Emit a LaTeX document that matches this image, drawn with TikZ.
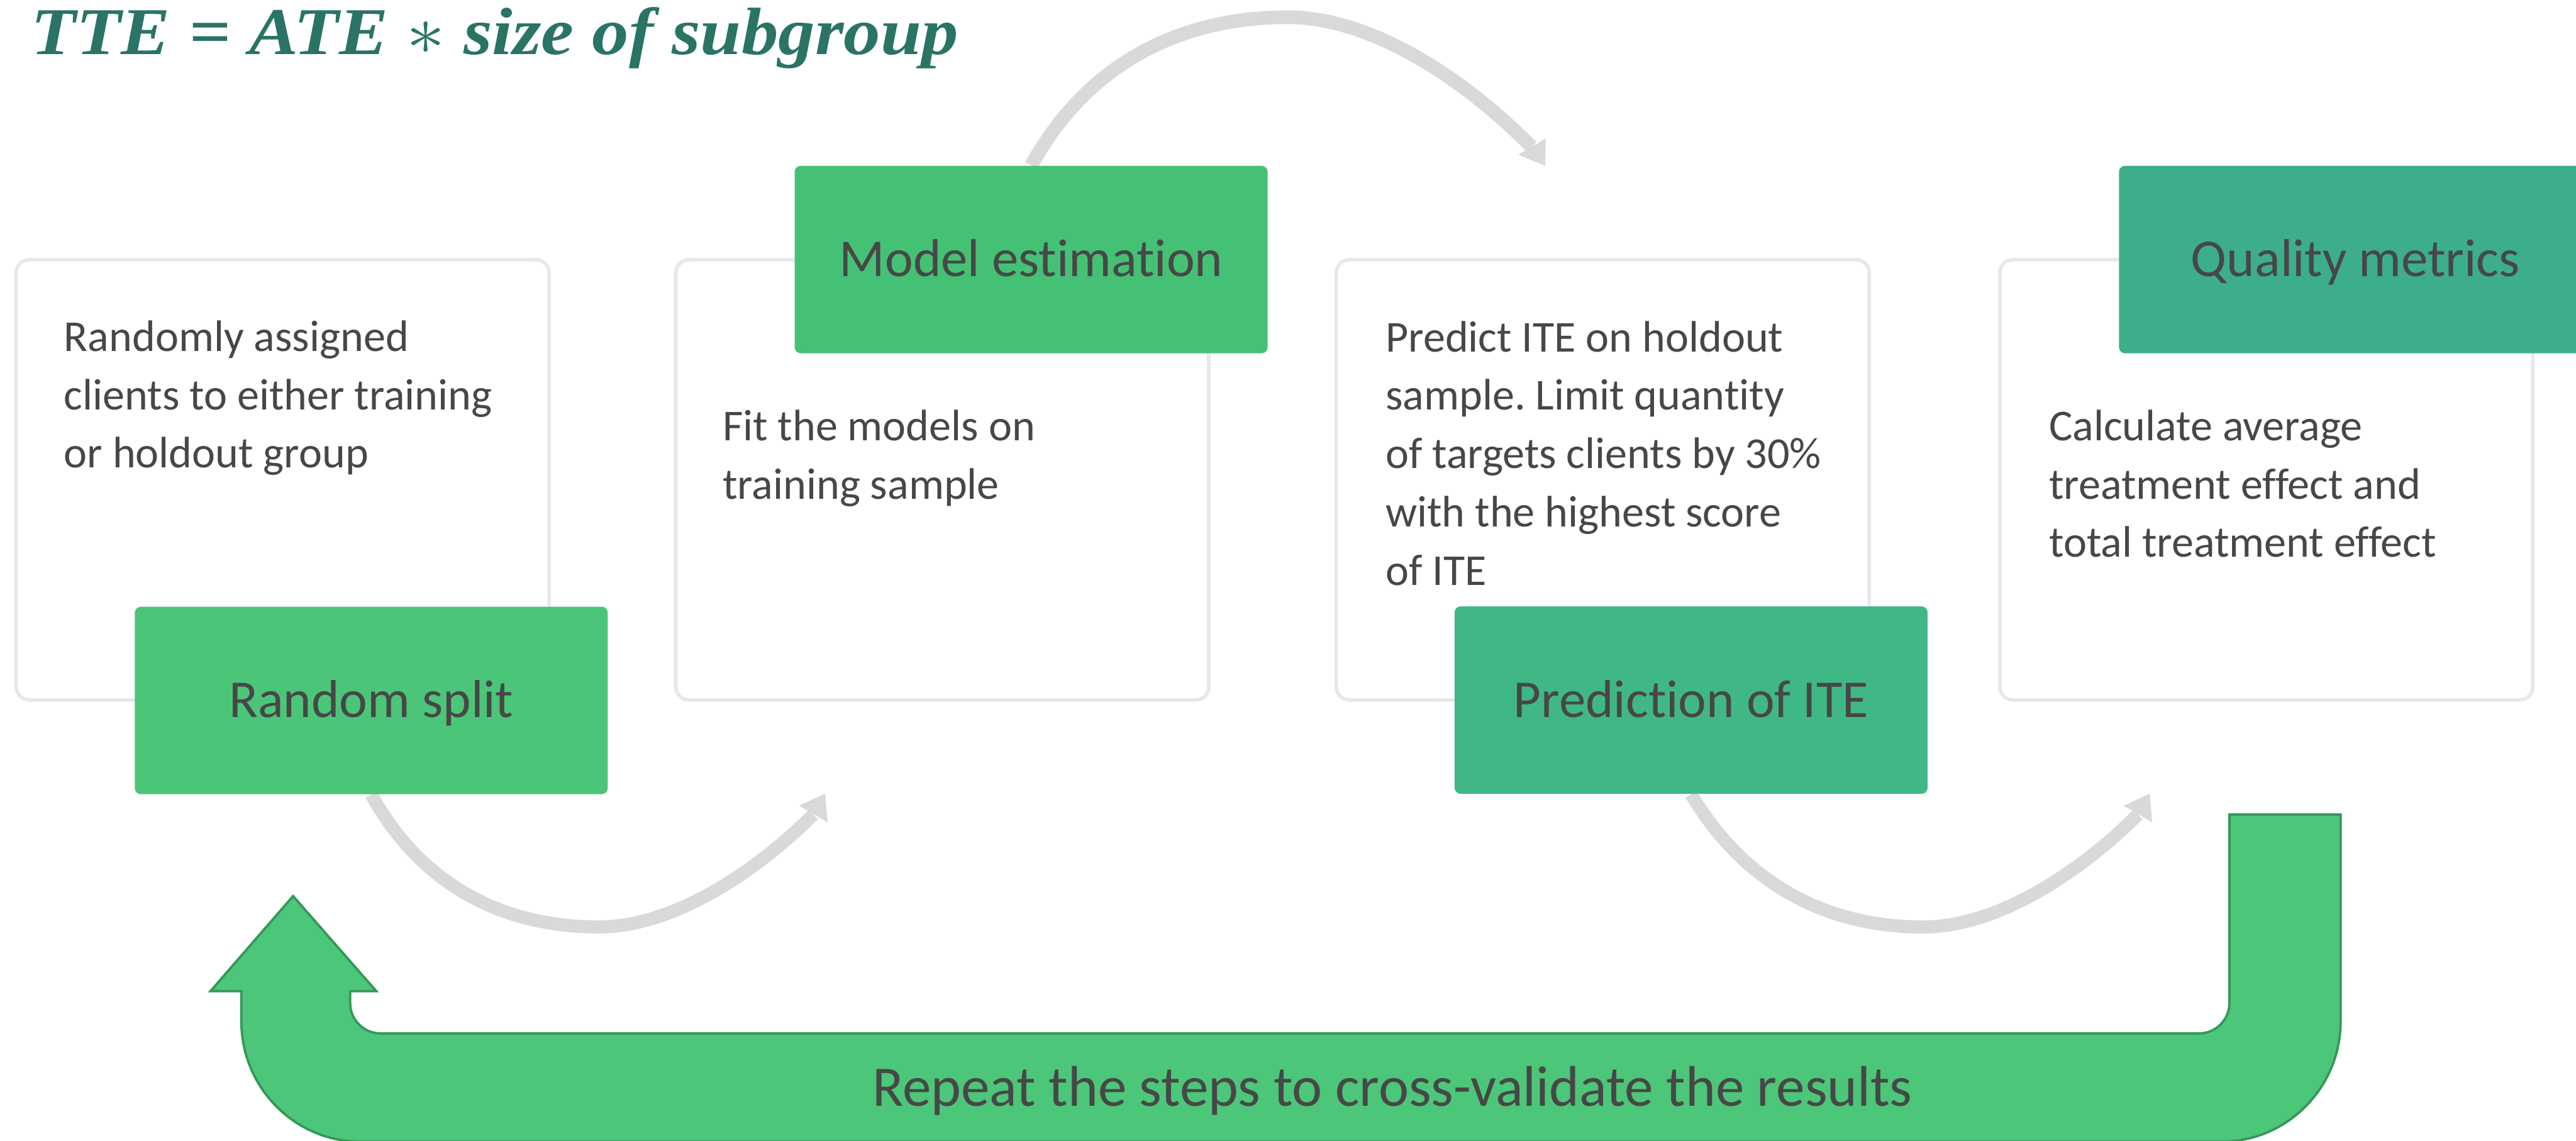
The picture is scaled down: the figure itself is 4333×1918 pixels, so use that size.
\documentclass[tikz,border=0pt]{standalone}
\usepackage{fontspec}
\setmainfont{Carlito}[Ligatures=NoCommon]
\newfontfamily\titlefont{Liberation Serif}
\usepackage{graphicx}
\frenchspacing
\definecolor{txtgray}{HTML}{474747}
\definecolor{titlegreen}{HTML}{2A7465}
\definecolor{gA}{HTML}{4BC679}
\definecolor{gB}{HTML}{45C175}
\definecolor{gC}{HTML}{40B885}
\definecolor{gD}{HTML}{3CAE8C}
\definecolor{boxline}{HTML}{E8E8E8}
\definecolor{arrgray}{HTML}{D9D9D9}
\definecolor{ugreen}{HTML}{4CC679}
\definecolor{uline}{HTML}{36975A}
\pgfdeclarelayer{background}
\pgfsetlayers{background,main}
\tikzset{
  whitebox/.style={draw=boxline, line width=0.06cm, fill=white, rounded corners=0.22cm,
    minimum width=8.96cm, minimum height=7.40cm, inner sep=0pt},
  labelbox/.style={rounded corners=0.1cm, minimum width=7.95cm, minimum height=3.15cm,
    inner sep=0pt, text=txtgray, font=\fontsize{25.5}{30}\selectfont,
    text height=16.4pt, text depth=0pt},
  bigtext/.style={inner sep=0pt, text=txtgray, font=\fontsize{27.4}{32}\selectfont,
    text height=17.6pt, text depth=0pt},
  bodytext/.style={anchor=base west, align=left, inner sep=0pt, text=txtgray,
    font=\fontsize{21.1}{27.9}\selectfont},
  curvearrow/.style={draw=arrgray, line width=0.22cm},
  headfill/.style={fill=arrgray},
}
\begin{document}
\begin{tikzpicture}[x=0.01cm, y=-0.01cm]
\useasboundingbox (0,0) rectangle (4333,1918);
\clip (0,0) rectangle (4333,1918);

% title
\node[anchor=base west, inner sep=0pt, text=titlegreen,
  font=\titlefont\bfseries\itshape\fontsize{32}{38}\selectfont] (title) at (52,91)
  {\scalebox{1.1}[1]{TTE = ATE \scalebox{1.35}{$\ast$} size of subgroup}};

% white step boxes
\node[whitebox] (b1) at (475.5,807) {};
\node[whitebox] (b2) at (1585,807) {};
\node[whitebox] (b3) at (2696,807) {};
\node[whitebox] (b4) at (3812,807) {};

% body texts (anchored at the baseline of their last line)
\node[bodytext] (t1) at (107,787) {Randomly assigned\\clients to either training\\or holdout group};
\node[bodytext] (t2) at (1215,839) {Fit the models on\\training sample};
\node[bodytext] (t3) at (2330,984) {Predict ITE on holdout\\sample. Limit quantity\\of targets clients by 30\%\\with the highest score\\of ITE};
\node[bodytext] (t4) at (3446,937) {Calculate average\\treatment effect and\\total treatment effect};

% green label boxes
\node[labelbox, fill=gA] (g1) at (624.5,1178) {Random split};
\node[labelbox, fill=gB] (g2) at (1734.5,436.5) {Model estimation};
\node[labelbox, fill=gC] (g3) at (2844.5,1177.5) {Prediction of ITE};
\node[labelbox, fill=gD] (g4) at (3962,436.5) {Quality metrics};

% free ends of the curved connectors
\coordinate (tipA) at (2599,279);
\coordinate (tipB) at (1388,1335);
\coordinate (tipC) at (3616,1335);

\begin{pgfonlayer}{background}
  % top curved arrow: model estimation -> prediction
  \draw[curvearrow, line width=0.23cm] (g2.north) .. controls (1836,95) and (2000,29) .. (2166,29)
     .. controls (2313,29) and (2472,141) .. (2576,247);
  \fill[headfill] (tipA) -- ++(1,-46) -- ++(-46,27) -- cycle;
  % bottom curved arrow: random split -> fit models
  \draw[curvearrow] (g1.south) .. controls (715,1500) and (860,1559) .. (1007,1559)
     .. controls (1137,1559) and (1278,1460) .. (1368,1370);
  \fill[headfill] (tipB) -- ++(-44,20) -- ++(48,28) -- cycle;
  % bottom curved arrow: prediction -> quality metrics
  \draw[curvearrow] (g3.south) .. controls (2943,1500) and (3088,1559) .. (3235,1559)
     .. controls (3365,1559) and (3506,1460) .. (3596,1370);
  \fill[headfill] (tipC) -- ++(-44,20) -- ++(48,28) -- cycle;
\end{pgfonlayer}

% big U-turn arrow
\filldraw[fill=ugreen, draw=uline, line width=0.04cm]
  (493,1507) -- (633,1667) -- (589,1667) -- (589,1687)
  .. controls (589,1715) and (612,1738) .. (640,1738) -- (3699,1738)
  .. controls (3727,1738) and (3750,1715) .. (3750,1687) -- (3750,1370) -- (3937,1370)
  -- (3937,1718) .. controls (3937,1829) and (3847,1920) .. (3737,1920) -- (606,1920)
  .. controls (496,1920) and (406,1829) .. (406,1718) -- (406,1667) -- (354,1667) -- cycle;
\node[bigtext] (repeat) at (2342,1829) {Repeat the steps to cross-validate the results};
\end{tikzpicture}
\end{document}
